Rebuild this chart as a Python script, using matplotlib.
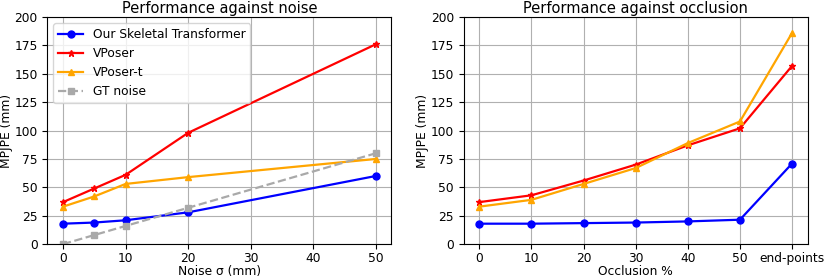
import numpy as np
import matplotlib
matplotlib.use("Agg")
import matplotlib.pyplot as plt

# noise experiment
noise = [0, 5, 10, 20, 50]
ours_noise = [18, 19, 21, 28, 60]
vposer_noise = [37, 49, 61, 98, 176]
vposert_noise = [33, 42, 53, 59, 75]
gt_noise = [0, 8, 16, 32, 80]

# occlusion experiment
occ_labels = ["0", "10", "20", "30", "40", "50", "end-points"]
ours_occ = [18, 18, 18.5, 19, 20, 21.5, 71]
vposer_occ = [37, 43, 56, 70, 87, 102, 157]
vposert_occ = [33, 39, 53, 67, 89, 108, 186]

plt.rcParams['font.size'] = 8.8

fig, (ax1, ax2) = plt.subplots(1, 2, figsize=(8.31, 2.79), dpi=100)
fig.subplots_adjust(left=0.057, right=0.972, top=0.939, bottom=0.125, wspace=0.21)

lw = 1.6
ms = 5
ax1.plot(noise, ours_noise, c="b", marker="o", lw=lw, ms=ms, label="Our Skeletal Transformer")
ax1.plot(noise, vposer_noise, c="r", marker="*", lw=lw, ms=ms, label="VPoser")
ax1.plot(noise, vposert_noise, c="orange", marker="^", lw=lw, ms=ms, label="VPoser-t")
ax1.plot(noise, gt_noise, c="darkgray", marker="s", ls="--", lw=lw, ms=ms, label="GT noise")
ax1.set_ylim(0, 200)
ax1.set_xlabel("Noise σ (mm)", labelpad=0)
ax1.set_ylabel("MPJPE (mm)", labelpad=1)
ax1.set_title("Performance against noise", fontsize=10.5, pad=3)
ax1.grid(True)
ax1.tick_params(axis="x", pad=2)
ax1.legend(loc="upper left")

xo = np.arange(len(occ_labels))
ax2.plot(xo, ours_occ, c="b", marker="o", lw=lw, ms=ms)
ax2.plot(xo, vposer_occ, c="r", marker="*", lw=lw, ms=ms)
ax2.plot(xo, vposert_occ, c="orange", marker="^", lw=lw, ms=ms)
ax2.set_xticks(xo)
ax2.set_xticklabels(occ_labels)
ax2.set_ylim(0, 200)
ax2.set_xlabel("Occlusion %", labelpad=0)
ax2.set_ylabel("MPJPE (mm)", labelpad=1)
ax2.set_title("Performance against occlusion", fontsize=10.5, pad=3)
ax2.grid(True)
ax2.tick_params(axis="x", pad=2)

plt.savefig("out.png")
